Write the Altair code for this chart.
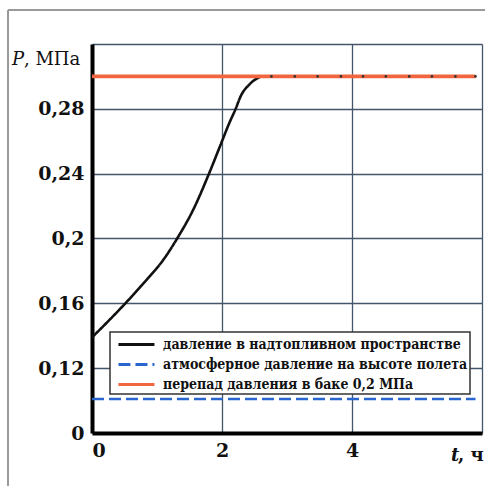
import altair as alt
import pandas as pd

# --- data ---
series_names = [
    "давление в  надтопливном пространстве",
    "атмосферное давление на высоте полета",
    "перепад давления в баке 0,2 МПа",
]
series_colors = ["#111111", "#2a66cf", "#f2663f"]
series_dash = [[1, 0], [12, 5], [1, 0]]

t_tank = [0, 0.25, 0.49, 0.85, 1.10, 1.31, 1.56, 1.80, 1.98, 2.11, 2.21, 2.29, 2.42, 2.60]
p_tank = [0.139, 0.149, 0.159, 0.175, 0.187, 0.200, 0.218, 0.240, 0.258, 0.271, 0.280, 0.288, 0.295, 0.300]

t_atm = [0, 5.9]
p_atm = [0.101, 0.101]

t_diff = [0, 5.9]
p_diff = [0.300, 0.300]

t_marks = [2.76, 3.12, 3.47, 3.83, 4.17, 4.52, 4.88, 5.23, 5.59, 5.90]
p_marks = [0.300] * len(t_marks)

y_ticks = [0.08, 0.12, 0.16, 0.2, 0.24, 0.28, 0.32]
x_ticks = [0, 2, 4, 6]

df = pd.concat([
    pd.DataFrame({"t": t_tank, "p": p_tank, "s": series_names[0], "w": 2.6}),
    pd.DataFrame({"t": t_atm, "p": p_atm, "s": series_names[1], "w": 2.6}),
    pd.DataFrame({"t": t_diff, "p": p_diff, "s": series_names[2], "w": 3.6}),
])
dots = pd.DataFrame({"t": t_marks, "p": p_marks})

SERIF = "DejaVu Serif"
SERIF_C = "DejaVu Serif Condensed, DejaVu Serif"

x_enc = alt.X("t:Q", scale=alt.Scale(domain=[0, 6], nice=False, zero=False),
              axis=alt.Axis(values=x_ticks, title=None,
                            labelExpr="datum.value >= 6 ? '' : format(datum.value, 'd')"))
y_enc = alt.Y("p:Q", scale=alt.Scale(domain=[0.08, 0.32], nice=False, zero=False),
              axis=alt.Axis(values=y_ticks, title=None,
                            labelExpr="datum.value < 0.09 ? '0' : (datum.value > 0.31 ? '' : replace(format(datum.value, '.2~f'), '.', ','))"))

leg = alt.Legend(orient="none", legendX=18, legendY=288, title=None)
color_enc = alt.Color("s:N", scale=alt.Scale(domain=series_names, range=series_colors), title=None, legend=leg)
dash_enc = alt.StrokeDash("s:N", scale=alt.Scale(domain=series_names, range=series_dash), title=None, legend=leg)

def line_layer(name):
    return alt.Chart(df).transform_filter(alt.datum.s == name).mark_line(
        interpolate="monotone", clip=True
    ).encode(
        x=x_enc, y=y_enc, color=color_enc, strokeDash=dash_enc,
        strokeWidth=alt.StrokeWidth("w:Q", scale=None, legend=None),
    )

blue = line_layer(series_names[1])
black = line_layer(series_names[0])
red = line_layer(series_names[2])

pts = alt.Chart(dots).mark_point(filled=True, size=7, color="#333333", opacity=1).encode(x="t:Q", y="p:Q")

anno = pd.DataFrame({"a": [0]})
def txt(text, x, y, size, style="normal", weight="normal", align="left"):
    return alt.Chart(anno).mark_text(
        text=text, font=SERIF, fontSize=size, fontStyle=style, fontWeight=weight,
        align=align, baseline="alphabetic", color="#111111"
    ).encode(x=alt.value(x), y=alt.value(y))

p_lab = txt("P", -80, 21, 18, style="italic")
p_unit = txt(", МПа", -68, 21, 18)
t_lab = txt("t", 359, 417, 18, style="italic", weight="bold")
t_unit = txt(", ч", 366, 417, 18, weight="bold")

frame_v = alt.Chart(anno).mark_rule(color="#9a9a9a", strokeWidth=2).encode(
    x=alt.value(-84), y=alt.value(-34), y2=alt.value(445))
frame_h = alt.Chart(anno).mark_rule(color="#9a9a9a", strokeWidth=2).encode(
    x=alt.value(-84), x2=alt.value(400), y=alt.value(-34))

chart = alt.layer(
    frame_v, frame_h, blue, black, red, pts, p_lab, p_unit, t_lab, t_unit
).properties(
    width=390, height=389,
    autosize=alt.AutoSizeParams(type="none"),
    padding={"left": 92, "top": 44, "right": 3, "bottom": 53},
).configure_view(
    stroke=None
).configure_axis(
    grid=True, gridColor="#44566a", gridWidth=1.3, gridOpacity=1,
    domainColor="#000000", domainWidth=4, ticks=False,
    labelFont=SERIF, labelFontSize=19, labelFontWeight="bold", labelColor="#111111",
).configure_axisY(
    labelPadding=8,
).configure_axisX(
    labelPadding=8,
).configure_legend(
    strokeColor="#333333", fillColor="#ffffff", padding=2, strokeWidth=1.5,
    symbolType="M-0.45,0H3.55", symbolSize=324, symbolStrokeWidth=3,
    labelFont=SERIF_C, labelFontSize=14, labelFontWeight="bold", labelColor="#111111",
    labelLimit=500, rowPadding=2, labelOffset=30, cornerRadius=0,
)

chart.save("out.html", embed_options={"renderer": "svg", "actions": False})
